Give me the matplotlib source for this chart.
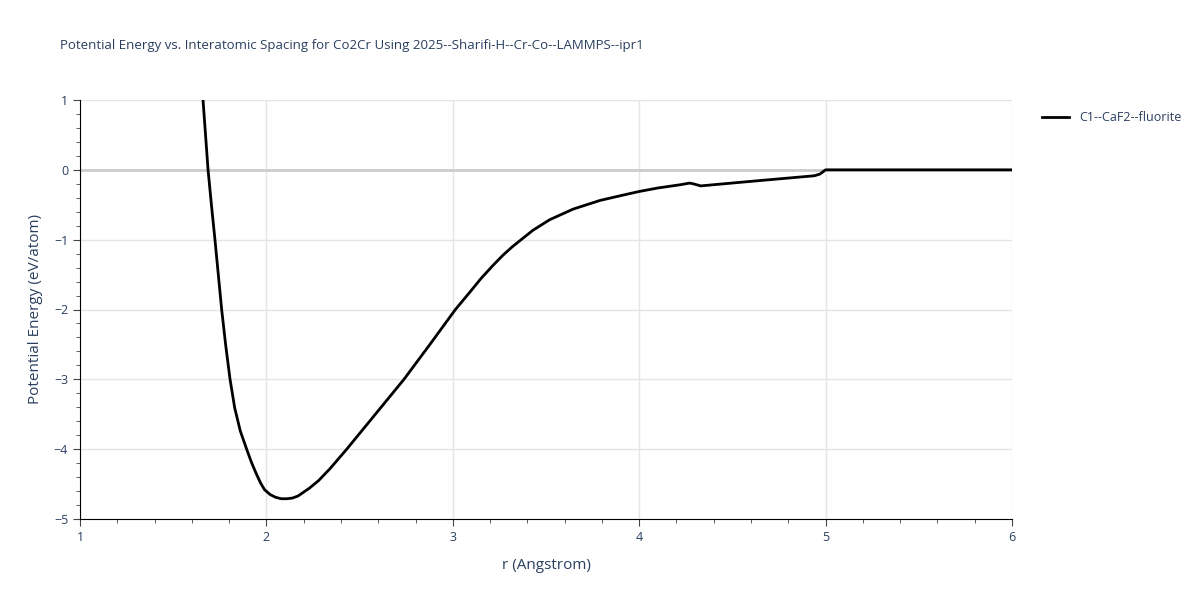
import matplotlib.pyplot as plt
from matplotlib.ticker import MultipleLocator

# === Data ===
r = [1.66, 1.687, 1.705, 1.724, 1.742, 1.760, 1.782, 1.805, 1.83, 1.86, 1.894, 1.92,
     1.947, 1.97, 1.99, 2.02, 2.05, 2.08, 2.11, 2.14, 2.17, 2.23, 2.28, 2.341, 2.431,
     2.56, 2.738, 2.88, 3.014, 3.092, 3.15, 3.215, 3.27, 3.32, 3.43, 3.52, 3.646, 3.79, 3.90, 4.00,
     4.10, 4.219, 4.27, 4.29, 4.33, 4.62, 4.94, 4.97, 5.00, 6.00]
energy = [1.0, 0.0, -0.50, -1.0, -1.50, -2.0, -2.52, -3.0, -3.41, -3.74, -4.0, -4.19,
          -4.36, -4.49, -4.58, -4.65, -4.69, -4.71, -4.71, -4.70, -4.67, -4.56, -4.45, -4.28, -4.0,
          -3.58, -3.0, -2.49, -2.0, -1.75, -1.56, -1.37, -1.22, -1.10, -0.865, -0.714, -0.562, -0.438, -0.37, -0.31,
          -0.26, -0.214, -0.19, -0.20, -0.23, -0.16, -0.085, -0.06, 0.0, 0.0]
series_label = "C1--CaF2--fluorite"

title = "Potential Energy vs. Interatomic Spacing for Co2Cr Using 2025--Sharifi-H--Cr-Co--LAMMPS--ipr1"
text_color = "#2a3f5f"

plt.rcParams['font.family'] = ['Open Sans', 'DejaVu Sans']

fig = plt.figure(figsize=(12, 6), dpi=100)
ax = fig.add_axes([80 / 1200, 1 - 519 / 600, 932 / 1200, 419 / 600])

ax.plot(r, energy, color="black", linewidth=2, label=series_label, zorder=3)

ax.set_xlim(1, 6)
ax.set_ylim(-5, 1)
ax.xaxis.set_major_locator(MultipleLocator(1))
ax.xaxis.set_minor_locator(MultipleLocator(0.2))
ax.yaxis.set_major_locator(MultipleLocator(1))
ax.yaxis.set_minor_locator(MultipleLocator(0.2))

# grid
ax.grid(True, which="major", color="#e5e5e5", linewidth=1, zorder=0)
ax.axhline(0, color="#cccccc", linewidth=2, zorder=1)
ax.set_axisbelow(True)

for s in ["top", "right"]:
    ax.spines[s].set_visible(False)
ax.spines["left"].set_color("black")
ax.spines["bottom"].set_color("black")

ax.tick_params(axis="both", which="major", direction="out", length=5, color="#444444",
               labelsize=9, labelcolor=text_color)
ax.tick_params(axis="both", which="minor", direction="out", length=3, color="#444444")

ax.set_xlabel("r (Angstrom)", fontsize=11, color=text_color, labelpad=10)
ax.set_ylabel("Potential Energy (eV/atom)", fontsize=11, color=text_color, labelpad=8)

fig.text(60 / 1200, 1 - 45 / 600, title, fontsize=9.5, color=text_color, va="center", ha="left")

ax.legend(loc="upper left", bbox_to_anchor=(1.02, 1.0), frameon=False, fontsize=9,
          labelcolor=text_color, handlelength=2.2)

fig.savefig("out.png", dpi=100)
